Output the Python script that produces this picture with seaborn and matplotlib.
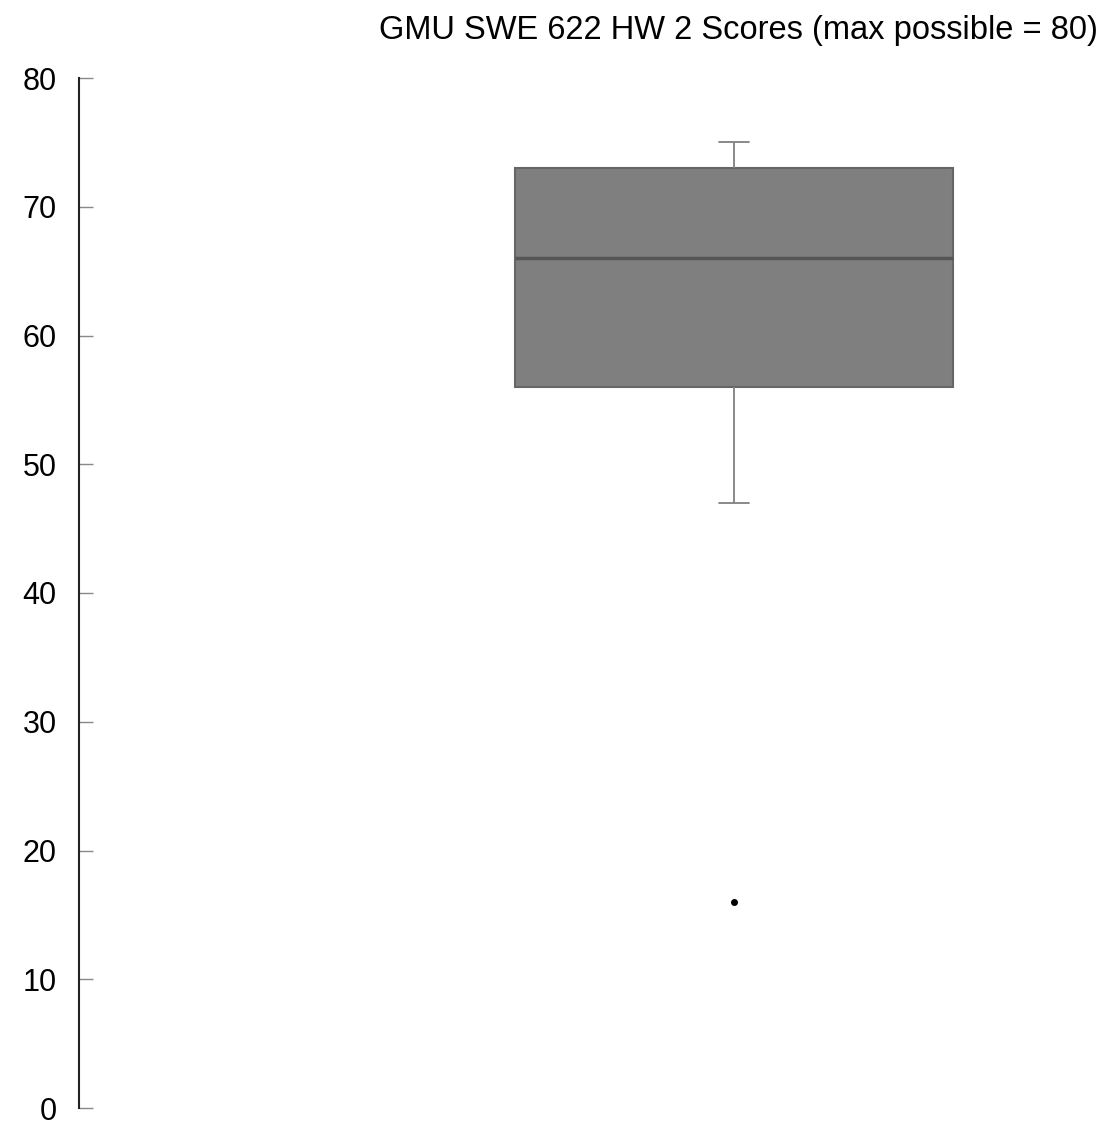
import pandas as pd
import seaborn as sns
import matplotlib.pyplot as plt

# HW 2 scores (q1=56, median=66, q3=73, whiskers 47..75, outlier 16)
scores = [16, 47, 52, 56, 56, 58, 62, 66, 66, 68, 73, 73, 74, 75, 75]
y_ticks = [0, 10, 20, 30, 40, 50, 60, 70, 80]
title = "GMU SWE 622 HW 2 Scores (max possible = 80)"

df = pd.DataFrame({"score": scores})

sns.set_style("white")
plt.rcParams['font.family'] = ['Liberation Sans', 'DejaVu Sans']
plt.rcParams['text.color'] = 'black'
plt.rcParams['ytick.labelcolor'] = 'black'

fig = plt.figure(figsize=(11.05, 11.25), dpi=100)
ax = fig.add_axes([79 / 1105, 17 / 1125, 1 - 79 / 1105, 1030 / 1125])

sns.boxplot(data=df, y="score", ax=ax, width=0.8, color="#7f7f7f", whis=1.5,
            boxprops=dict(facecolor="#7f7f7f", edgecolor="#666666", linewidth=1.5),
            medianprops=dict(color="#555555", linewidth=2.5),
            whiskerprops=dict(color="#808080", linewidth=1.3),
            capprops=dict(color="#808080", linewidth=1.3),
            flierprops=dict(marker="o", markersize=4, markerfacecolor="black",
                            markeredgecolor="black"),
            capwidths=0.055)

ax.set_xlim(-1.196, 0.678)
ax.set_ylim(0, 80)
ax.set_yticks(y_ticks)
ax.set_xticks([])
ax.set_xlabel("")
ax.set_ylabel("")
for s in ["top", "right", "bottom"]:
    ax.spines[s].set_visible(False)
ax.spines["left"].set_color("#222222")
ax.spines["left"].set_linewidth(1.5)
ax.tick_params(axis="y", direction="in", length=10, width=1, color="#888888",
               pad=16, labelsize=22, labelcolor="black", left=True)

fig.text(1098 / 1105, 1 - 30 / 1125, title, ha="right", va="center",
         fontsize=23.5, color="black")

fig.savefig("out.png", dpi=100)
